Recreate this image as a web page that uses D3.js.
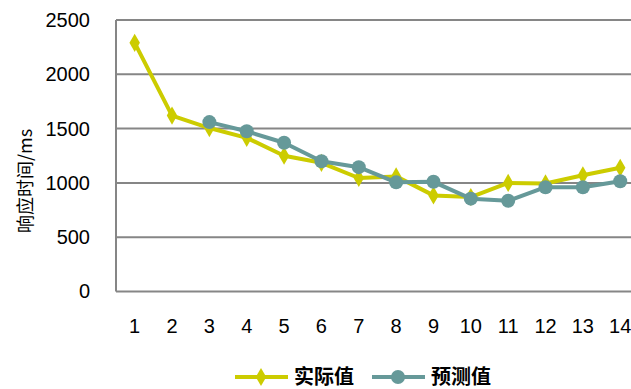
<!DOCTYPE html>
<html>
<head>
<meta charset="utf-8">
<script src="https://cdn.jsdelivr.net/npm/d3@7"></script>
<style>
  body { margin: 0; background: #fff; }
  svg { display: block; }
</style>
</head>
<body>
<svg id="chart" width="631" height="389"></svg>
<script>
// data
const categories = ['1', '2', '3', '4', '5', '6', '7', '8', '9', '10', '11', '12', '13', '14'];
const actual = [2290, 1620, 1505, 1415, 1250, 1185, 1045, 1060, 885, 870, 1000, 995, 1070, 1140];
const predicted = [null, null, 1560, 1475, 1370, 1200, 1145, 1005, 1010, 855, 835, 960, 960, 1015];
const yTicks = [0, 500, 1000, 1500, 2000, 2500];
const seriesNames = ['实际值', '预测值'];

const yellow = '#cccc00';
const teal = '#669999';
const gridColor = '#868686';

const margin = { top: 20, left: 116 };
const plotH = 271.5;
const step = 37.35;

const svg = d3.select('#chart');
const g = svg.append('g').attr('transform', 'translate(' + margin.left + ',' + margin.top + ')');

const x = d3.scaleBand().domain(categories).range([0, step * categories.length]);
const y = d3.scaleLinear().domain([0, 2500]).range([plotH, 0]);
const cx = d => x(d) + x.bandwidth() / 2;

// grid
g.selectAll('.grid').data(yTicks).enter().append('line')
  .attr('x1', 0).attr('x2', 600)
  .attr('y1', d => y(d)).attr('y2', d => y(d))
  .attr('stroke', gridColor).attr('stroke-width', 2);

g.append('line').attr('x1', 0).attr('x2', 0).attr('y1', 0).attr('y2', plotH)
  .attr('stroke', gridColor).attr('stroke-width', 2);

// y axis labels
const yAxis = g.append('g').call(d3.axisLeft(y).tickValues(yTicks).tickFormat(d3.format('d')).tickSize(0).tickPadding(26));
yAxis.select('.domain').remove();
yAxis.selectAll('text').attr('font-family', 'Liberation Sans, Arial, sans-serif').attr('font-size', 20).attr('fill', '#000');

// x axis labels
const xAxis = g.append('g').attr('transform', 'translate(0,' + plotH + ')')
  .call(d3.axisBottom(x).tickSize(0).tickPadding(27));
xAxis.select('.domain').remove();
xAxis.selectAll('text').attr('font-family', 'Liberation Sans, Arial, sans-serif').attr('font-size', 20).attr('fill', '#000');

// y title
svg.append('text')
  .attr('transform', 'translate(26,181) rotate(-90)')
  .attr('text-anchor', 'middle')
  .attr('dy', '0.36em')
  .attr('font-family', 'Noto Sans CJK SC, sans-serif')
  .attr('font-size', 18)
  .text('响应时间/ms');

const diamond = d3.symbol().type(d3.symbolDiamond).size(95);

// actual
const lineA = d3.line().defined(d => d[1] != null).x(d => cx(d[0])).y(d => y(d[1]));
const aData = categories.map((c, i) => [c, actual[i]]);
g.append('path').datum(aData).attr('d', lineA)
  .attr('fill', 'none').attr('stroke', yellow).attr('stroke-width', 4).attr('stroke-linejoin', 'round');
g.selectAll('.ma').data(aData).enter().append('path')
  .attr('d', diamond)
  .attr('transform', d => 'translate(' + cx(d[0]) + ',' + y(d[1]) + ')')
  .attr('fill', yellow);

// predicted
const pData = categories.map((c, i) => [c, predicted[i]]);
g.append('path').datum(pData).attr('d', lineA)
  .attr('fill', 'none').attr('stroke', teal).attr('stroke-width', 4).attr('stroke-linejoin', 'round');
g.selectAll('.mp').data(pData.filter(d => d[1] != null)).enter().append('circle')
  .attr('cx', d => cx(d[0])).attr('cy', d => y(d[1])).attr('r', 7)
  .attr('fill', teal);

// legend
const legend = svg.append('g').attr('transform', 'translate(0,377)');
const items = [
  { name: seriesNames[0], color: yellow, x0: 235 },
  { name: seriesNames[1], color: teal, x0: 372 }
];
items.forEach((it, i) => {
  legend.append('line').attr('x1', it.x0).attr('x2', it.x0 + 53).attr('y1', 0).attr('y2', 0)
    .attr('stroke', it.color).attr('stroke-width', 4);
  if (i === 0) {
    legend.append('path').attr('d', diamond).attr('transform', 'translate(' + (it.x0 + 26) + ',0)').attr('fill', it.color);
  } else {
    legend.append('circle').attr('cx', it.x0 + 26).attr('cy', 0).attr('r', 7).attr('fill', it.color);
  }
  legend.append('text').attr('x', it.x0 + 59).attr('y', 0).attr('dy', '0.34em')
    .attr('font-family', 'Noto Sans CJK SC, sans-serif').attr('font-size', 20).attr('font-weight', 'bold')
    .text(it.name);
});
</script>
</body>
</html>
